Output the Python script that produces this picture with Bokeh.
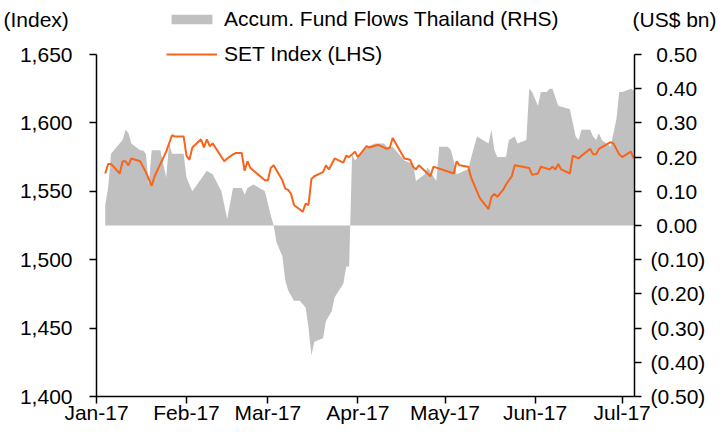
import pandas as pd
from bokeh.plotting import figure
from bokeh.models import (Range1d, LinearAxis, FixedTicker, NumeralTickFormatter,
                          DatetimeTickFormatter, CustomJSTickFormatter, Legend,
                          LegendItem, Label)
from bokeh.embed import file_html
from bokeh.resources import INLINE

# ---------------- data ----------------
set_dates = [
    "2017-01-04", "2017-01-05", "2017-01-06", "2017-01-09", "2017-01-10", "2017-01-11",
    "2017-01-12", "2017-01-13", "2017-01-16", "2017-01-18", "2017-01-20", "2017-01-21",
    "2017-01-23", "2017-01-25", "2017-01-27", "2017-01-28", "2017-01-31", "2017-02-01",
    "2017-02-02", "2017-02-03", "2017-02-06", "2017-02-07", "2017-02-08", "2017-02-09",
    "2017-02-10", "2017-02-14", "2017-02-15", "2017-02-17", "2017-02-18", "2017-02-20",
    "2017-02-21", "2017-02-22", "2017-02-23", "2017-02-28", "2017-03-01", "2017-03-02",
    "2017-03-03", "2017-03-06", "2017-03-07", "2017-03-08", "2017-03-09", "2017-03-10",
    "2017-03-13", "2017-03-14", "2017-03-15", "2017-03-16", "2017-03-17", "2017-03-20",
    "2017-03-21", "2017-03-22", "2017-03-24", "2017-03-27", "2017-03-28", "2017-03-29",
    "2017-03-30", "2017-03-31", "2017-04-01", "2017-04-04", "2017-04-05", "2017-04-08",
    "2017-04-11", "2017-04-12", "2017-04-13", "2017-04-17", "2017-04-19", "2017-04-20",
    "2017-04-21", "2017-04-22", "2017-04-26", "2017-04-27", "2017-05-04", "2017-05-05",
    "2017-05-06", "2017-05-09", "2017-05-10", "2017-05-13", "2017-05-16", "2017-05-17",
    "2017-05-18", "2017-05-19", "2017-05-21", "2017-05-22", "2017-05-24", "2017-05-25",
    "2017-05-30", "2017-05-31", "2017-06-02", "2017-06-03", "2017-06-06", "2017-06-07",
    "2017-06-08", "2017-06-09", "2017-06-10", "2017-06-13", "2017-06-14", "2017-06-16",
    "2017-06-17", "2017-06-20", "2017-06-21", "2017-06-22", "2017-06-23", "2017-06-27",
    "2017-06-28", "2017-06-30", "2017-07-01", "2017-07-04", "2017-07-05",
]
set_values = [
    1563, 1570, 1570, 1563, 1572, 1572,
    1569, 1574, 1572, 1564, 1554, 1561,
    1570, 1579, 1591, 1590, 1590, 1576,
    1573, 1582, 1588, 1582, 1588, 1583,
    1585, 1572, 1574, 1577, 1578, 1578,
    1565, 1572, 1567, 1558, 1558, 1567,
    1569, 1558, 1552, 1551, 1548, 1540,
    1535, 1541, 1540, 1559, 1561, 1564,
    1569, 1566, 1574, 1571, 1576, 1575,
    1577, 1579, 1575, 1583, 1582, 1584,
    1581, 1582, 1589, 1574, 1573, 1568,
    1566, 1569, 1561, 1568, 1563, 1572,
    1569, 1568, 1560, 1545, 1537, 1546,
    1548, 1546, 1551, 1555, 1561, 1569,
    1567, 1562, 1563, 1568, 1566, 1568,
    1566, 1570, 1566, 1563, 1576, 1574,
    1576, 1581, 1577, 1577, 1581, 1586,
    1585, 1577, 1575, 1579, 1574,
]

flow_dates = [
    "2017-01-04", "2017-01-05", "2017-01-06", "2017-01-08", "2017-01-10", "2017-01-11",
    "2017-01-12", "2017-01-13", "2017-01-16", "2017-01-17", "2017-01-18", "2017-01-19",
    "2017-01-20", "2017-01-23", "2017-01-25", "2017-01-26", "2017-01-27", "2017-01-31",
    "2017-02-01", "2017-02-02", "2017-02-03", "2017-02-08", "2017-02-10", "2017-02-13",
    "2017-02-15", "2017-02-17", "2017-02-20", "2017-02-21", "2017-02-22", "2017-02-24",
    "2017-02-28", "2017-03-02", "2017-03-03", "2017-03-04", "2017-03-06", "2017-03-07",
    "2017-03-08", "2017-03-10", "2017-03-12", "2017-03-14", "2017-03-15", "2017-03-16",
    "2017-03-17", "2017-03-20", "2017-03-21", "2017-03-23", "2017-03-24", "2017-03-27",
    "2017-03-28", "2017-03-29", "2017-03-30", "2017-03-31", "2017-04-04", "2017-04-07",
    "2017-04-10", "2017-04-11", "2017-04-13", "2017-04-17", "2017-04-20", "2017-04-21",
    "2017-04-24", "2017-04-25", "2017-04-28", "2017-04-29", "2017-05-02", "2017-05-03",
    "2017-05-04", "2017-05-05", "2017-05-09", "2017-05-11", "2017-05-12", "2017-05-16",
    "2017-05-17", "2017-05-18", "2017-05-19", "2017-05-22", "2017-05-23", "2017-05-25",
    "2017-05-26", "2017-05-29", "2017-05-30", "2017-05-31", "2017-06-02", "2017-06-03",
    "2017-06-05", "2017-06-06", "2017-06-07", "2017-06-08", "2017-06-09", "2017-06-13",
    "2017-06-15", "2017-06-16", "2017-06-17", "2017-06-20", "2017-06-21", "2017-06-22",
    "2017-06-23", "2017-06-24", "2017-06-27", "2017-06-28", "2017-06-29", "2017-06-30",
    "2017-07-01", "2017-07-04", "2017-07-05",
]
flow_values = [
    0.06, 0.11, 0.21, 0.23, 0.25, 0.28,
    0.27, 0.24, 0.22, 0.22, 0.21, 0.12,
    0.22, 0.22, 0.14, 0.24, 0.21, 0.21,
    0.14, 0.12, 0.10, 0.16, 0.15, 0.10,
    0.02, 0.11, 0.11, 0.09, 0.11, 0.12,
    0.10, 0.03, 0.00, -0.05, -0.09, -0.16,
    -0.19, -0.22, -0.22, -0.24, -0.30, -0.38,
    -0.34, -0.33, -0.28, -0.25, -0.21, -0.17,
    -0.12, -0.12, 0.21, 0.19, 0.23, 0.24,
    0.24, 0.23, 0.23, 0.19, 0.18, 0.13,
    0.15, 0.17, 0.13, 0.23, 0.23, 0.22,
    0.19, 0.15, 0.165, 0.23, 0.26, 0.24,
    0.28, 0.22, 0.20, 0.20, 0.25, 0.26,
    0.24, 0.25, 0.40, 0.39, 0.35, 0.39,
    0.39, 0.40, 0.40, 0.375, 0.35, 0.34,
    0.26, 0.25, 0.28, 0.28, 0.26, 0.25,
    0.27, 0.25, 0.23, 0.27, 0.31, 0.39,
    0.39, 0.40, 0.395,
]

month_ticks = ["2017-01-01", "2017-02-01", "2017-03-01", "2017-04-01",
               "2017-05-01", "2017-06-01", "2017-07-01"]
left_ticks = [1400, 1450, 1500, 1550, 1600, 1650]
right_ticks = [-0.5, -0.4, -0.3, -0.2, -0.1, 0.0, 0.1, 0.2, 0.3, 0.4, 0.5]

# ---------------- layout / styling ----------------
W, H = 724, 432
PL, PR, PT, PB = 96, 634, 54, 396          # axes box in canvas pixels
FONT = "Liberation Sans"
FS = "21px"
ORANGE = "#F8641A"
GREY = "#C0C0C0"

x_lo = pd.Timestamp("2017-01-01")
x_hi = pd.Timestamp("2017-07-05 06:00")
ms = lambda t: pd.Timestamp(t).value / 1e6
span_ms = ms(x_hi) - ms(x_lo)
ms_per_px = span_ms / (PR - PL)
xr = Range1d(ms(x_lo) - PL * ms_per_px, ms(x_hi) + (W - PR) * ms_per_px)

l_lo, l_hi = left_ticks[0], left_ticks[-1]
u_px = (l_hi - l_lo) / (PB - PT)
yr = Range1d(l_lo - (H - PB) * u_px, l_hi + PT * u_px)
r_lo, r_hi = right_ticks[0], right_ticks[-1]
r_px = (r_hi - r_lo) / (PB - PT)
rr = Range1d(r_lo - (H - PB) * r_px, r_hi + PT * r_px)

set_x = pd.to_datetime(set_dates)
flow_x = pd.to_datetime(flow_dates)
tick_ms = [ms(d) for d in month_ticks]

p = figure(width=W, height=H, x_axis_type="datetime",
           output_backend="svg", toolbar_location=None,
           x_range=xr, y_range=yr, min_border=0)
p.extra_y_ranges = {"rhs": rr}
p.outline_line_color = None
p.xgrid.visible = False
p.ygrid.visible = False
p.background_fill_color = "white"
p.border_fill_color = "white"

area = p.varea(x=flow_x, y1=0, y2=flow_values, y_range_name="rhs",
               fill_color=GREY, fill_alpha=1.0)
line = p.line(set_x, set_values, line_color=ORANGE, line_width=2)


def style(ax):
    ax.axis_line_color = "black"
    ax.axis_line_width = 1.5
    ax.major_tick_line_color = "black"
    ax.major_tick_line_width = 1.5
    ax.major_tick_in = 0
    ax.major_tick_out = 7
    ax.minor_tick_line_color = None
    ax.major_label_text_font = FONT
    ax.major_label_text_font_size = FS
    ax.major_label_text_color = "black"


xa = p.xaxis[0]
xa.ticker = FixedTicker(ticks=tick_ms)
xa.formatter = DatetimeTickFormatter(days="%b-%y", months="%b-%y", years="%b-%y",
                                     hours="%b-%y", minutes="%b-%y")
style(xa)
xa.fixed_location = l_lo
xa.bounds = (ms(x_lo) - 1, ms(x_hi))
xa.major_label_standoff = -3

ya = p.yaxis[0]
ya.ticker = FixedTicker(ticks=left_ticks)
ya.formatter = NumeralTickFormatter(format="0,0")
style(ya)
ya.fixed_location = ms(x_lo)
ya.bounds = (l_lo - 0.01, l_hi + 0.01)
ya.major_label_standoff = 17

ra = LinearAxis(y_range_name="rhs", ticker=FixedTicker(ticks=right_ticks),
                formatter=CustomJSTickFormatter(code="""
                    if (tick < -1e-9) { return "(" + Math.abs(tick).toFixed(2) + ")"; }
                    return "\u2008" + Math.abs(tick).toFixed(2);
                """))
style(ra)
ra.fixed_location = ms(x_hi)
ra.bounds = (r_lo - 0.0001, r_hi + 0.0001)
ra.major_label_standoff = 9
p.add_layout(ra, "right")

legend = Legend(items=[
    LegendItem(label="Accum. Fund Flows Thailand (RHS)", renderers=[area]),
    LegendItem(label="SET Index (LHS)", renderers=[line]),
], location=(166, H - 66), padding=0, margin=0, spacing=11,
    border_line_color=None, background_fill_alpha=0,
    glyph_width=51, glyph_height=12, label_standoff=7,
    label_text_font=FONT, label_text_font_size=FS, label_text_color="black")
p.add_layout(legend)

p.add_layout(Label(x=3, y=H - 19, x_units="screen", y_units="screen", text="(Index)",
                   text_baseline="middle", text_align="left",
                   text_font=FONT, text_font_size=FS, text_color="black"))
p.add_layout(Label(x=716, y=H - 19, x_units="screen", y_units="screen", text="(US$ bn)",
                   text_baseline="middle", text_align="right",
                   text_font=FONT, text_font_size=FS, text_color="black"))

open("out.html", "w").write(file_html(p, INLINE))
